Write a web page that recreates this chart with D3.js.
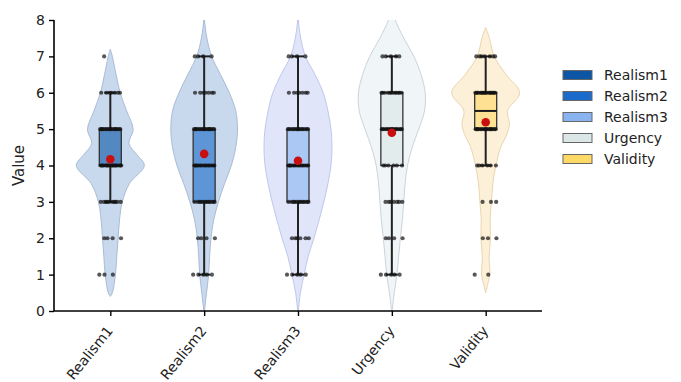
<!DOCTYPE html>
<html>
<head>
<meta charset="utf-8">
<script src="https://cdn.jsdelivr.net/npm/d3@7"></script>
<style>
  body { margin: 0; background: #fff; }
  text { font-family: "DejaVu Sans", sans-serif; }
</style>
</head>
<body>
<div id="chart"></div>
<script>
// ---- data ----
var categories = ["Realism1", "Realism2", "Realism3", "Urgency", "Validity"];
var yTicks = [0, 1, 2, 3, 4, 5, 6, 7, 8];

// violin profiles: [value, relative density] (scaled so widest = 1)
var violinRealism1 = [[0.4,0],[0.5,0.06],[1,0.15],[1.5,0.19],[2,0.23],[2.5,0.27],[3,0.35],[3.5,0.56],[4,1.0],[4.3,0.78],[4.6,0.55],[5,0.67],[5.5,0.48],[6,0.29],[6.5,0.17],[7,0.06],[7.2,0]];
var violinRealism2 = [[-0.2,0],[0,0.01],[0.5,0.07],[1,0.13],[1.5,0.16],[2,0.2],[2.5,0.28],[3,0.42],[3.5,0.6],[4,0.8],[4.5,0.93],[5,0.98],[5.5,0.93],[6,0.74],[6.5,0.48],[7,0.22],[7.5,0.08],[8,0.01],[8.2,0]];
var violinRealism3 = [[-0.2,0],[0,0.01],[0.5,0.07],[1,0.18],[1.5,0.3],[2,0.47],[2.5,0.62],[3,0.76],[3.5,0.88],[4,0.97],[4.5,1.0],[5,0.97],[5.5,0.88],[6,0.74],[6.5,0.5],[7,0.22],[7.5,0.08],[8,0.01],[8.2,0]];
var violinUrgency  = [[-0.2,0],[0,0.01],[0.5,0.07],[1,0.15],[1.5,0.2],[2,0.25],[2.5,0.31],[3,0.35],[3.5,0.39],[4,0.46],[4.5,0.6],[5,0.79],[5.5,0.96],[6,0.98],[6.5,0.86],[7,0.65],[7.5,0.35],[8,0.1],[8.3,0]];
var violinValidity = [[0.5,0],[0.7,0.05],[1,0.12],[1.5,0.1],[2,0.14],[2.5,0.13],[3,0.17],[3.5,0.21],[4,0.3],[4.5,0.44],[4.85,0.62],[5.15,0.7],[5.5,0.64],[6,1.0],[6.5,0.6],[7,0.25],[7.5,0.11],[7.8,0]];

// box stats: q1, median, q3, lower whisker, upper whisker, mean
var q1       = [4, 3, 3, 4, 5];
var medians  = [4, 4, 4, 5, 5.5];
var q3       = [5, 5, 5, 6, 6];
var whiskLo  = [3, 1, 1, 1, 4];
var whiskHi  = [6, 7, 7, 7, 7];
var means    = [4.17, 4.32, 4.13, 4.9, 5.19];

// responses per score 1..7
var scores = [1, 2, 3, 4, 5, 6, 7];
var countsRealism1 = [3, 4, 10, 18, 16, 7, 1];
var countsRealism2 = [5, 4, 12, 14, 16, 7, 4];
var countsRealism3 = [5, 6, 12, 14, 14, 7, 4];
var countsUrgency  = [5, 4, 7, 6, 14, 12, 5];
var countsValidity = [2, 3, 3, 6, 16, 18, 7];

var legendColors = ["#0d56a6", "#1c6ac9", "#8ab4f0", "#dbe7e7", "#ffd966"];
var violinFill   = ["#c9d9ed", "#c9d9ed", "#e0e5fa", "#f0f5f8", "#fdf0d9"];
var violinEdge   = ["#a9bbd5", "#a9bbd5", "#c0c8ea", "#ccd3d9", "#ead6ad"];

var violins = [violinRealism1, violinRealism2, violinRealism3, violinUrgency, violinValidity];
var counts = [countsRealism1, countsRealism2, countsRealism3, countsUrgency, countsValidity];

var W = 681, H = 382;
var svg = d3.select("#chart").append("svg")
    .attr("width", W)
    .attr("height", H);

var x = d3.scalePoint()
    .domain(categories)
    .range([54, 542])
    .padding(0.6);

var y = d3.scaleLinear()
    .domain([0, 8])
    .range([311, 20]);

var w = d3.scaleLinear().domain([0, 1]).range([0, 34]);

svg.append("clipPath").attr("id", "plotclip")
  .append("rect")
    .attr("x", 54).attr("y", y(8))
    .attr("width", 488).attr("height", y(0) - y(8));

var plot = svg.append("g").attr("clip-path", "url(#plotclip)");

// violins
categories.forEach(function(c, i){
    var cx = x(c);
    var area = d3.area()
        .y(function(d){ return y(d[0]); })
        .x0(function(d){ return cx - w(d[1]); })
        .x1(function(d){ return cx + w(d[1]); })
        .curve(d3.curveCatmullRom);
    plot.append("path")
        .datum(violins[i])
        .attr("d", area)
        .attr("fill", violinFill[i])
        .attr("stroke", violinEdge[i])
        .attr("stroke-width", 1);
});

var boxW = 22, capW = 12;

// boxes + whiskers
categories.forEach(function(c, i){
    var cx = x(c);
    var g = plot.append("g");
    g.append("line")
        .attr("x1", cx).attr("x2", cx)
        .attr("y1", y(whiskLo[i])).attr("y2", y(q1[i]))
        .attr("stroke", "#222").attr("stroke-width", 2);
    g.append("line")
        .attr("x1", cx).attr("x2", cx)
        .attr("y1", y(q3[i])).attr("y2", y(whiskHi[i]))
        .attr("stroke", "#222").attr("stroke-width", 2);
    [whiskLo[i], whiskHi[i]].forEach(function(v){
        g.append("line")
            .attr("x1", cx - capW/2).attr("x2", cx + capW/2)
            .attr("y1", y(v)).attr("y2", y(v))
            .attr("stroke", "#222").attr("stroke-width", 2);
    });
    g.append("rect")
        .attr("x", cx - boxW/2)
        .attr("y", y(q3[i]))
        .attr("width", boxW)
        .attr("height", y(q1[i]) - y(q3[i]))
        .attr("fill", legendColors[i])
        .attr("fill-opacity", 0.62)
        .attr("stroke", "#333")
        .attr("stroke-width", 1.3);
    g.append("line")
        .attr("x1", cx - boxW/2).attr("x2", cx + boxW/2)
        .attr("y1", y(medians[i])).attr("y2", y(medians[i]))
        .attr("stroke", "#1a1a1a").attr("stroke-width", 2);
});

// strip points, spread evenly (no randomness)
categories.forEach(function(c, i){
    var cx = x(c);
    scores.forEach(function(s, k){
        var n = counts[i][k];
        for (var j = 0; j < n; j++){
            var f = ((j * 0.618 + k * 0.37) % 1) - 0.5;
            plot.append("circle")
                .attr("cx", cx + f * 22)
                .attr("cy", y(s))
                .attr("r", 2.1)
                .attr("fill", "#111")
                .attr("fill-opacity", 0.7);
        }
    });
});

// means
plot.selectAll(".mean")
    .data(categories)
    .enter().append("circle")
    .attr("class", "mean")
    .attr("cx", function(d){ return x(d); })
    .attr("cy", function(d, i){ return y(means[i]); })
    .attr("r", 4.3)
    .attr("fill", "#c81010");

// axes
var yAxis = d3.axisLeft(y).tickValues(yTicks).tickSize(5).tickPadding(4);
var gy = svg.append("g")
    .attr("transform", "translate(54,0)")
    .call(yAxis);
gy.select(".domain").attr("stroke-width", 1.6).attr("d", "M0," + y(8) + "V" + y(0));
gy.selectAll(".tick line").attr("stroke-width", 1.4);
gy.selectAll(".tick text").style("font-size", "14px").attr("fill", "#222");

var xAxis = d3.axisBottom(x).tickSize(5).tickPadding(4);
var gx = svg.append("g")
    .attr("transform", "translate(0,311)")
    .call(xAxis);
gx.select(".domain").attr("stroke-width", 1.6).attr("d", "M54,0H542");
gx.selectAll(".tick line").attr("stroke-width", 1.4);
gx.selectAll(".tick text")
    .style("font-size", "14px")
    .attr("fill", "#222")
    .attr("text-anchor", "end")
    .attr("dy", "0.35em")
    .attr("transform", "translate(-1,17) rotate(-51)")
    .attr("x", 0).attr("y", 0);

svg.append("text")
    .attr("transform", "translate(24," + ((y(0) + y(8)) / 2) + ") rotate(-90)")
    .attr("text-anchor", "middle")
    .style("font-size", "15px")
    .attr("fill", "#222")
    .text("Value");

// legend
var legend = svg.append("g").attr("transform", "translate(563,75)");
categories.forEach(function(c, i){
    var row = legend.append("g").attr("transform", "translate(0," + (i * 21) + ")");
    row.append("rect")
        .attr("x", 0).attr("y", -4.5)
        .attr("width", 29).attr("height", 9)
        .attr("fill", legendColors[i])
        .attr("stroke", "#666")
        .attr("stroke-width", 1);
    row.append("text")
        .attr("x", 41).attr("y", 0)
        .attr("dy", "0.35em")
        .style("font-size", "14px")
        .attr("fill", "#222")
        .text(c);
});
</script>
</body>
</html>
